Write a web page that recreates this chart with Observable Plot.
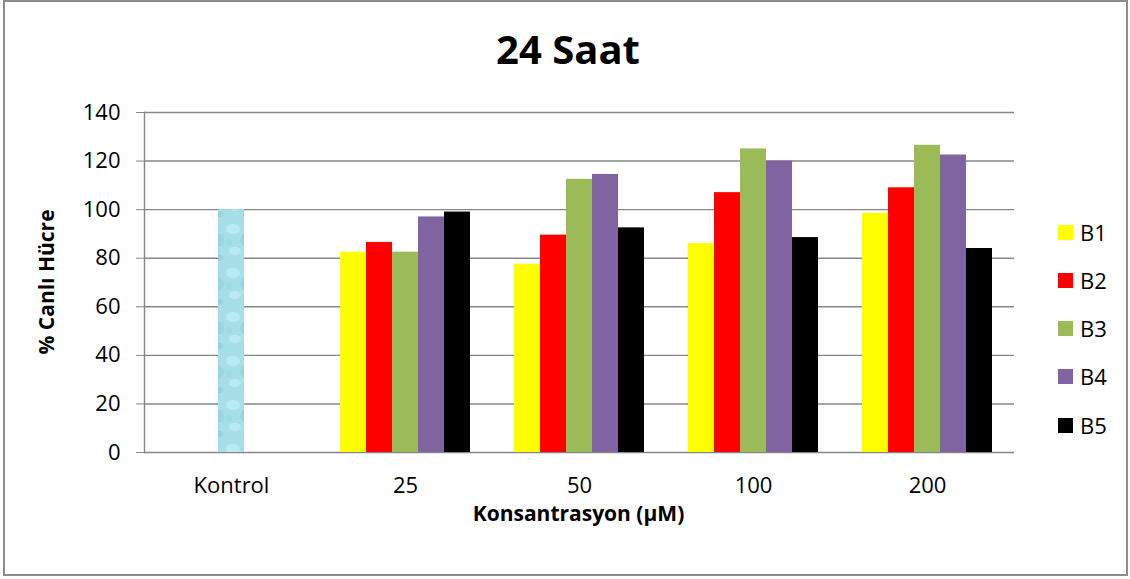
<!DOCTYPE html>
<html><head><meta charset="utf-8">
<script src="https://cdn.jsdelivr.net/npm/d3@7"></script>
<script src="https://cdn.jsdelivr.net/npm/@observablehq/plot@0.6"></script>
<style>
body{margin:0;background:#fff;}
#wrap{position:relative;width:1130px;height:579px;overflow:hidden;font-family:'Open Sans',sans-serif;color:#000;}
#wrap > svg.plot{position:absolute;left:0;top:0;}
#border{position:absolute;left:3px;top:0;width:1125px;height:576px;border:2px solid #8c8c8c;box-sizing:border-box;pointer-events:none;}
#title{position:absolute;left:0;width:1136px;top:29px;text-align:center;font-weight:700;font-size:40px;line-height:1;}
#xtitle{position:absolute;left:0;width:1157px;top:503px;text-align:center;font-weight:700;font-size:21px;line-height:1;}
#ytitle{position:absolute;left:46px;top:282px;transform:translate(-50%,-50%) rotate(-90deg);font-weight:700;font-size:21px;line-height:1;white-space:nowrap;}
#legend{position:absolute;left:1058px;top:0;}
.li{position:absolute;left:0;display:flex;align-items:center;font-size:22px;line-height:1;white-space:nowrap;}
.sw{width:15px;height:15px;margin-right:7px;}
</style></head>
<body>
<svg width="0" height="0" style="position:absolute">
  <defs>
    <pattern id="water" patternUnits="userSpaceOnUse" width="28" height="44">
      <rect width="28" height="44" fill="#a7dfe9"/>
      <ellipse cx="8" cy="9" rx="7" ry="5" fill="#bfeef4" opacity="0.8"/>
      <ellipse cx="21" cy="20" rx="6" ry="7" fill="#94d3df" opacity="0.7"/>
      <ellipse cx="10" cy="31" rx="6" ry="4" fill="#c4f1f6" opacity="0.7"/>
      <ellipse cx="22" cy="38" rx="4" ry="3" fill="#8fcfdc" opacity="0.7"/>
      <ellipse cx="4" cy="22" rx="3" ry="4" fill="#9ad8e3" opacity="0.8"/>
    </pattern>
  </defs>
</svg>
<div id="wrap">
  <div id="title">24 Saat</div>
  <div id="ytitle">% Canlı Hücre</div>
  <div id="xtitle">Konsantrasyon (µM)</div>
  <div id="legend"></div>
  <div id="border"></div>
</div>
<script>
const categories = ["Kontrol", "25", "50", "100", "200"];
const series = ["B1", "B2", "B3", "B4", "B5"];
const seriesColors = ["#ffff00", "#ff0000", "#9bbb59", "#8064a2", "#000000"];
const kontrolValue = 100;
const B1 = [82.5, 77.5, 86, 98.5];
const B2 = [86.5, 89.5, 107, 109];
const B3 = [82.5, 112.5, 125, 126.5];
const B4 = [97, 114.5, 120, 122.5];
const B5 = [99, 92.5, 88.5, 84];
const yTicks = [0, 20, 40, 60, 80, 100, 120, 140];

const seriesValues = [B1, B2, B3, B4, B5];
const concentrations = categories.slice(1);
const rows = [];
series.forEach((s, si) => {
  concentrations.forEach((c, ci) => rows.push({cat: c, series: s, value: seriesValues[si][ci]}));
});
const kontrolRows = [{cat: categories[0], series: series[2], value: kontrolValue}];

const chart = Plot.plot({
  width: 1130,
  height: 579,
  marginLeft: 143,
  marginRight: 115,
  marginTop: 112,
  marginBottom: 127,
  style: {fontFamily: "'Open Sans', sans-serif", fontSize: "22px", color: "#000", background: "transparent"},
  fx: {domain: categories, paddingInner: 0, paddingOuter: 0, label: null},
  x: {domain: series, paddingInner: 0, paddingOuter: 0.73, axis: null},
  y: {domain: [0, 140], label: null},
  color: {domain: series, range: seriesColors},
  marks: [
    Plot.gridY(yTicks, {stroke: "#878787", strokeOpacity: 1, strokeWidth: 1.4}),
    Plot.frame({anchor: "left", facetAnchor: "left", stroke: "#878787", strokeWidth: 1.4}),
    Plot.axisY(yTicks, {tickSize: 8, tickPadding: 16, stroke: "#878787", fill: "#000", label: null, fontSize: 22}),
    Plot.axisFx({anchor: "bottom", tickSize: 0, tickPadding: 25, fill: "#000", label: null, fontSize: 22}),
    Plot.barY(rows, {fx: "cat", x: "series", y: "value", fill: "series"}),
    Plot.barY(kontrolRows, {fx: "cat", x: "series", y: "value", fill: "url(#water)"})
  ]
});
chart.classList.add("plot");
document.getElementById("wrap").insertBefore(chart, document.getElementById("title"));

const legend = document.getElementById("legend");
const legendY = [232, 280, 328, 376, 425];
series.forEach((s, i) => {
  const item = document.createElement("div");
  item.className = "li";
  item.style.top = (legendY[i] - 11) + "px";
  item.style.height = "22px";
  const sw = document.createElement("div");
  sw.className = "sw";
  sw.style.background = seriesColors[i];
  const t = document.createElement("span");
  t.textContent = s;
  item.appendChild(sw);
  item.appendChild(t);
  legend.appendChild(item);
});
</script>
</body></html>
